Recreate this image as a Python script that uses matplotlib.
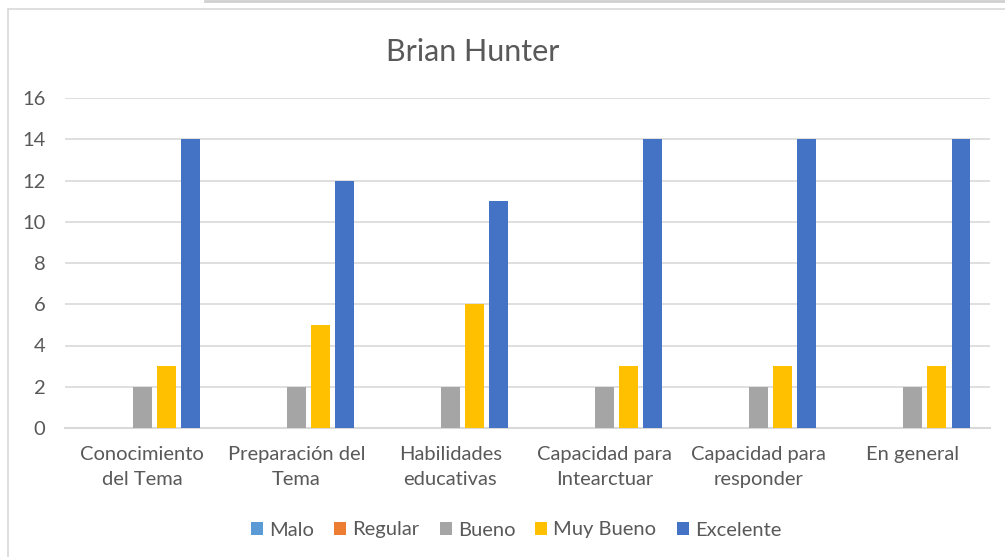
import matplotlib
matplotlib.use("Agg")
import matplotlib.pyplot as plt
from matplotlib.lines import Line2D
from matplotlib.patches import Patch
import numpy as np

plt.rcParams["font.family"] = ["Lato", "DejaVu Sans"]

categories = ["Conocimiento\ndel Tema", "Preparación del\nTema", "Habilidades\neducativas",
              "Capacidad para\nIntearctuar", "Capacidad para\nresponder", "En general"]
series = ["Malo", "Regular", "Bueno", "Muy Bueno", "Excelente"]
malo = [0, 0, 0, 0, 0, 0]
regular = [0, 0, 0, 0, 0, 0]
bueno = [2, 2, 2, 2, 2, 2]
muy_bueno = [3, 5, 6, 3, 3, 3]
excelente = [14, 12, 11, 14, 14, 14]
colors = ["#5B9BD5", "#ED7D31", "#A5A5A5", "#FFC000", "#4472C4"]

text_c = "#595959"
grid_c = "#D9D9D9"

fig = plt.figure(figsize=(10.05, 5.57), dpi=100)
ax = fig.add_axes([65 / 1005, 1 - 428 / 557, 925 / 1005, 330 / 557])

x = np.arange(len(categories))
slot = 0.156
bw = 0.123
for i, (vals, col) in enumerate(zip([malo, regular, bueno, muy_bueno, excelente], colors)):
    ax.bar(x + (i - 2) * slot, vals, width=bw, color=col, zorder=3)

ax.set_xlim(-0.5, len(categories) - 0.5)
ax.set_ylim(0, 16)
ax.set_yticks(range(0, 17, 2))
ax.set_xticks(x)
ax.set_xticklabels(categories, fontsize=14.5, color=text_c, linespacing=1.6)
ax.tick_params(axis="y", labelsize=14.5, labelcolor=text_c, length=0, pad=14)
ax.tick_params(axis="x", length=0, pad=13)
ax.grid(axis="y", color=grid_c, linewidth=1.2, zorder=0)
for s in ["top", "right", "left"]:
    ax.spines[s].set_visible(False)
ax.spines["bottom"].set_color(grid_c)
ax.spines["bottom"].set_linewidth(1.5)

fig.text(473 / 1005, 1 - 52 / 557, "Brian Hunter", ha="center", va="center",
         fontsize=22, color=text_c)

handles = [Patch(facecolor=c, edgecolor="none") for c in colors]
fig.legend(handles, series, loc="center", bbox_to_anchor=(516 / 1005, 1 - 530 / 557),
           ncol=5, frameon=False, fontsize=14.5, labelcolor=text_c,
           handlelength=0.6, handleheight=0.6, handletextpad=0.3, columnspacing=1.0)

# chart area border
fig.add_artist(Line2D([8 / 1005, 8 / 1005], [0, 1 - 9 / 557], color=grid_c, lw=1.2))
fig.add_artist(Line2D([8 / 1005, 1], [1 - 9 / 557, 1 - 9 / 557], color=grid_c, lw=1.2))
fig.add_artist(Line2D([205 / 1005, 1], [1 - 1 / 557, 1 - 1 / 557], color="#D0D0D0", lw=2))

fig.savefig("out.png", dpi=100)
